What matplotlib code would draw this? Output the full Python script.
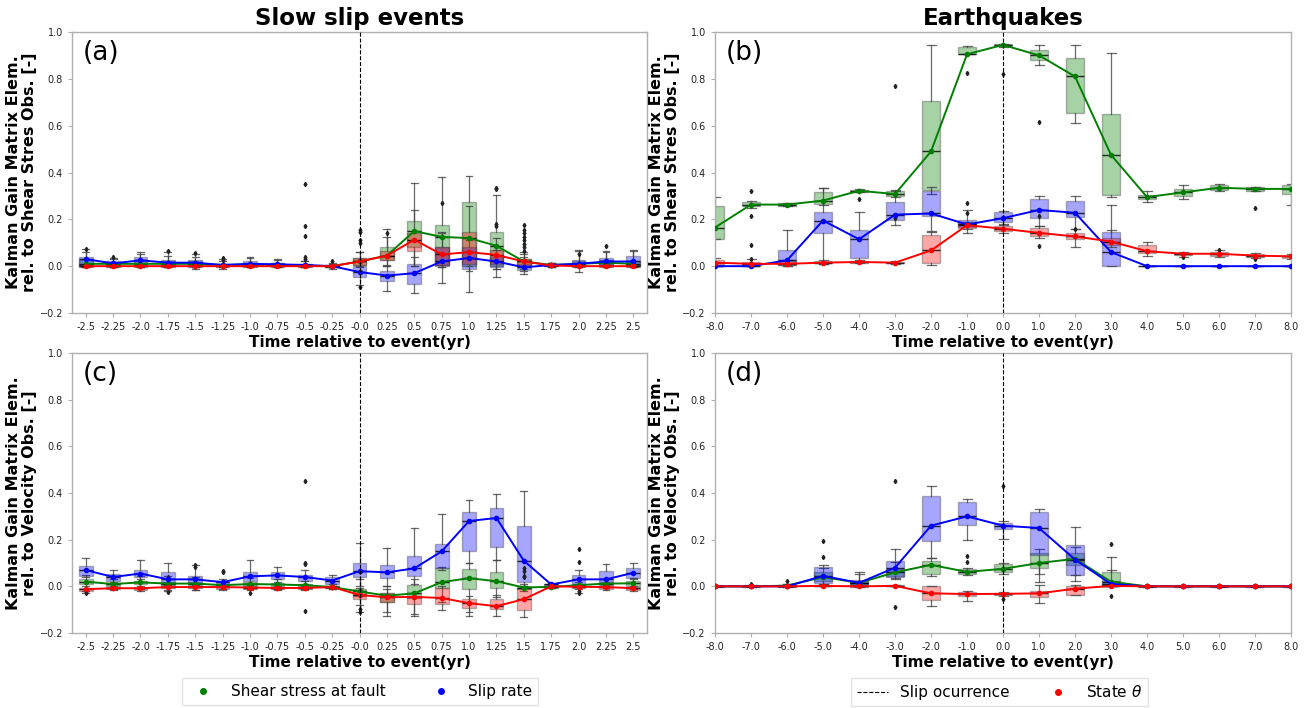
import matplotlib
matplotlib.use('Agg')
import matplotlib.pyplot as plt
from matplotlib.lines import Line2D

plt.rcParams['font.family'] = ['DejaVu Sans']

# ---------------- x positions / tick labels ----------------
sse_times = ['-2.5', '-2.25', '-2.0', '-1.75', '-1.5', '-1.25', '-1.0', '-0.75', '-0.5', '-0.25',
             '-0.0', '0.25', '0.5', '0.75', '1.0', '1.25', '1.5', '1.75', '2.0', '2.25', '2.5']
eq_times = [-8.0, -7.0, -6.0, -5.0, -4.0, -3.0, -2.0, -1.0, 0.0, 1.0, 2.0, 3.0, 4.0, 5.0, 6.0, 7.0, 8.0]

# ---------------- (a) SSE, shear stress obs ----------------
a_green_med = [0.01, 0.01, 0.01, 0.01, 0.01, 0.005, 0.008, 0.005, 0.003, 0.0, 0.02, 0.045, 0.15, 0.125, 0.12, 0.087, 0.02, 0.005, 0.01, 0.015, 0.01]
a_green_q1 = [0.0, 0.0, 0.0, 0.0, 0.0, 0.0, 0.0, 0.0, 0.0, -0.003, 0.005, 0.025, 0.08, 0.005, 0.0, 0.0, 0.0, 0.0, 0.0, 0.005, 0.0]
a_green_q3 = [0.025, 0.015, 0.025, 0.02, 0.02, 0.01, 0.015, 0.012, 0.01, 0.005, 0.035, 0.08, 0.195, 0.175, 0.275, 0.145, 0.03, 0.01, 0.02, 0.025, 0.02]
a_green_lo = [-0.005, -0.005, -0.005, -0.005, -0.005, -0.01, -0.005, -0.005, -0.005, -0.005, -0.005, 0.0, 0.0, -0.07, -0.11, -0.045, -0.02, -0.005, -0.025, -0.005, -0.005]
a_green_hi = [0.06, 0.03, 0.05, 0.045, 0.04, 0.03, 0.035, 0.025, 0.02, 0.015, 0.06, 0.16, 0.355, 0.38, 0.385, 0.305, 0.06, 0.015, 0.065, 0.06, 0.065]

a_blue_med = [0.03, 0.012, 0.025, 0.015, 0.015, 0.005, 0.01, 0.008, 0.005, 0.0, -0.025, -0.04, -0.03, 0.02, 0.035, 0.02, -0.005, 0.005, 0.01, 0.02, 0.02]
a_blue_q1 = [0.0, 0.0, 0.005, 0.0, 0.0, 0.0, 0.0, 0.0, 0.0, -0.005, -0.045, -0.065, -0.075, 0.0, -0.01, -0.005, -0.015, 0.0, 0.0, 0.005, 0.005]
a_blue_q3 = [0.04, 0.02, 0.04, 0.025, 0.025, 0.01, 0.02, 0.015, 0.01, 0.005, 0.0, -0.02, 0.01, 0.08, 0.08, 0.04, 0.01, 0.01, 0.025, 0.035, 0.045]
a_blue_lo = [-0.005, -0.005, 0.0, -0.005, -0.01, -0.005, -0.005, -0.005, -0.005, -0.01, -0.08, -0.105, -0.115, -0.005, -0.02, -0.01, -0.035, -0.005, -0.005, 0.0, 0.0]
a_blue_hi = [0.075, 0.035, 0.06, 0.06, 0.05, 0.02, 0.04, 0.03, 0.02, 0.01, 0.02, 0.0, 0.04, 0.14, 0.11, 0.07, 0.04, 0.015, 0.07, 0.065, 0.07]

a_red_med = [0.0, 0.0, 0.0, 0.0, 0.0, 0.0, 0.0, 0.0, 0.0, 0.0, 0.02, 0.045, 0.113, 0.05, 0.06, 0.048, 0.02, 0.003, 0.0, 0.0, 0.0]
a_red_q1 = [-0.003, -0.003, -0.003, -0.003, -0.003, -0.003, -0.003, -0.003, -0.003, -0.003, 0.005, 0.025, 0.065, 0.005, 0.01, 0.01, 0.0, 0.0, -0.003, -0.003, -0.003]
a_red_q3 = [0.003, 0.003, 0.003, 0.003, 0.003, 0.003, 0.003, 0.003, 0.003, 0.003, 0.035, 0.065, 0.14, 0.08, 0.145, 0.07, 0.03, 0.008, 0.005, 0.005, 0.005]
a_red_lo = [-0.005, -0.005, -0.005, -0.005, -0.005, -0.005, -0.005, -0.005, -0.005, -0.005, 0.0, 0.005, 0.0, -0.005, 0.0, -0.01, -0.01, -0.003, -0.005, -0.005, -0.005]
a_red_hi = [0.005, 0.005, 0.005, 0.005, 0.005, 0.005, 0.005, 0.005, 0.005, 0.005, 0.06, 0.125, 0.24, 0.145, 0.255, 0.12, 0.05, 0.012, 0.01, 0.01, 0.01]

a_fly_x = [0, 1, 3, 4, 5, 5, 8, 8, 8, 8, 8, 9, 10, 10, 10, 10, 10, 11, 13, 15, 15, 15, 15,
           16, 16, 16, 16, 16, 16, 16, 16, 18, 19]
a_fly_y = [0.075, 0.04, 0.065, 0.055, 0.035, 0.025, 0.35, 0.17, 0.13, 0.04, 0.03, 0.02, 0.155, 0.145, 0.11, 0.1, -0.09,
           0.14, 0.27, 0.335, 0.33, 0.18, 0.17, 0.175, 0.155, 0.14, 0.125, 0.11, 0.095, 0.08, 0.065, 0.05, 0.085]

# ---------------- (b) EQ, shear stress obs ----------------
b_green_med = [0.165, 0.263, 0.263, 0.28, 0.322, 0.308, 0.49, 0.905, 0.945, 0.9, 0.81, 0.475, 0.295, 0.315, 0.335, 0.33, 0.33]
b_green_q1 = [0.115, 0.255, 0.257, 0.265, 0.318, 0.298, 0.325, 0.905, 0.94, 0.88, 0.655, 0.305, 0.285, 0.30, 0.325, 0.323, 0.31]
b_green_q3 = [0.255, 0.275, 0.268, 0.318, 0.326, 0.32, 0.705, 0.935, 0.95, 0.925, 0.89, 0.65, 0.305, 0.33, 0.345, 0.338, 0.345]
b_green_lo = [0.115, 0.25, 0.255, 0.26, 0.316, 0.295, 0.31, 0.905, 0.938, 0.86, 0.61, 0.295, 0.275, 0.285, 0.32, 0.32, 0.26]
b_green_hi = [0.295, 0.28, 0.27, 0.335, 0.33, 0.325, 0.945, 0.94, 0.95, 0.945, 0.945, 0.91, 0.32, 0.345, 0.35, 0.34, 0.35]

b_blue_med = [0.0, 0.0, 0.025, 0.195, 0.115, 0.22, 0.225, 0.178, 0.205, 0.24, 0.228, 0.06, 0.0, 0.0, 0.0, 0.0, 0.0]
b_blue_q1 = [0.0, 0.0, 0.005, 0.14, 0.035, 0.198, 0.215, 0.168, 0.19, 0.205, 0.21, 0.0, 0.0, 0.0, 0.0, 0.0, 0.0]
b_blue_q3 = [0.002, 0.002, 0.07, 0.232, 0.155, 0.275, 0.32, 0.198, 0.232, 0.288, 0.28, 0.145, 0.001, 0.001, 0.001, 0.001, 0.001]
b_blue_lo = [0.0, 0.0, 0.0, 0.01, 0.02, 0.175, 0.15, 0.14, 0.18, 0.17, 0.16, 0.0, 0.0, 0.0, 0.0, 0.0, 0.0]
b_blue_hi = [0.005, 0.005, 0.155, 0.335, 0.23, 0.32, 0.34, 0.24, 0.235, 0.30, 0.30, 0.26, 0.001, 0.001, 0.001, 0.001, 0.001]

b_red_med = [0.015, 0.01, 0.01, 0.015, 0.018, 0.015, 0.067, 0.175, 0.16, 0.142, 0.127, 0.105, 0.064, 0.053, 0.053, 0.045, 0.042]
b_red_q1 = [0.005, 0.003, 0.005, 0.012, 0.015, 0.012, 0.015, 0.165, 0.152, 0.13, 0.115, 0.09, 0.055, 0.048, 0.045, 0.04, 0.035]
b_red_q3 = [0.025, 0.018, 0.02, 0.02, 0.022, 0.018, 0.135, 0.185, 0.17, 0.162, 0.14, 0.12, 0.09, 0.058, 0.06, 0.05, 0.045]
b_red_lo = [0.0, 0.0, 0.0, 0.01, 0.012, 0.01, 0.005, 0.16, 0.14, 0.12, 0.08, 0.08, 0.045, 0.04, 0.04, 0.035, 0.03]
b_red_hi = [0.035, 0.03, 0.025, 0.025, 0.025, 0.02, 0.145, 0.19, 0.175, 0.17, 0.16, 0.155, 0.105, 0.06, 0.07, 0.055, 0.05]

b_fly_x = [-7, -7, -7, -7, -4, -3, -3, -1, -1, -1, 0, 1, 1, 1, 2, 5, 6, 7, 7]
b_fly_y = [0.32, 0.215, 0.09, 0.03, 0.285, 0.77, 0.205, 0.825, 0.27, 0.225, 0.82, 0.615, 0.215, 0.085, 0.16, 0.04, 0.07, 0.25, 0.03]

# ---------------- (c) SSE, velocity obs ----------------
c_green_med = [0.02, 0.01, 0.017, 0.012, 0.012, 0.005, 0.01, 0.008, 0.005, -0.003, -0.022, -0.04, -0.03, 0.018, 0.035, 0.022, -0.005, -0.002, 0.005, 0.012, 0.013]
c_green_q1 = [0.01, 0.003, 0.008, 0.003, 0.003, -0.003, 0.0, 0.0, -0.003, -0.008, -0.04, -0.065, -0.05, -0.005, -0.01, -0.005, -0.01, -0.005, -0.003, 0.005, 0.003]
c_green_q3 = [0.03, 0.015, 0.025, 0.02, 0.02, 0.01, 0.018, 0.015, 0.012, 0.003, -0.01, -0.03, 0.005, 0.078, 0.075, 0.06, 0.0, 0.003, 0.012, 0.02, 0.025]
c_green_lo = [-0.02, -0.01, -0.01, -0.02, -0.015, -0.01, -0.01, -0.01, -0.01, -0.01, -0.08, -0.11, -0.12, -0.065, -0.11, -0.045, -0.02, -0.008, -0.03, -0.005, -0.01]
c_green_hi = [0.05, 0.03, 0.045, 0.045, 0.04, 0.02, 0.035, 0.03, 0.025, 0.01, 0.03, 0.0, 0.03, 0.085, 0.1, 0.115, 0.01, 0.008, 0.02, 0.03, 0.035]

c_blue_med = [0.07, 0.04, 0.055, 0.03, 0.03, 0.018, 0.043, 0.047, 0.04, 0.025, 0.065, 0.06, 0.077, 0.15, 0.28, 0.293, 0.11, 0.008, 0.03, 0.03, 0.058]
c_blue_q1 = [0.045, 0.025, 0.04, 0.01, 0.015, 0.005, 0.025, 0.03, 0.025, 0.01, 0.04, 0.035, 0.045, 0.08, 0.15, 0.17, 0.02, 0.0, 0.01, 0.02, 0.035]
c_blue_q3 = [0.088, 0.052, 0.07, 0.062, 0.045, 0.025, 0.062, 0.062, 0.05, 0.04, 0.1, 0.09, 0.13, 0.18, 0.32, 0.335, 0.257, 0.012, 0.05, 0.065, 0.08]
c_blue_lo = [0.04, 0.02, 0.03, 0.0, 0.0, 0.0, 0.01, 0.02, 0.01, 0.0, 0.0, 0.0, 0.01, 0.07, 0.1, 0.115, 0.0, 0.0, 0.0, 0.01, 0.03]
c_blue_hi = [0.12, 0.07, 0.113, 0.098, 0.09, 0.03, 0.112, 0.085, 0.07, 0.05, 0.185, 0.165, 0.25, 0.31, 0.37, 0.395, 0.41, 0.015, 0.068, 0.095, 0.098]

c_red_med = [-0.012, -0.008, -0.008, -0.003, -0.003, -0.003, -0.005, -0.007, -0.007, -0.003, -0.037, -0.047, -0.045, -0.05, -0.072, -0.085, -0.055, 0.0, -0.002, -0.003, -0.008]
c_red_q1 = [-0.02, -0.012, -0.015, -0.008, -0.008, -0.01, -0.01, -0.012, -0.012, -0.008, -0.053, -0.068, -0.075, -0.075, -0.092, -0.095, -0.1, -0.003, -0.008, -0.01, -0.015]
c_red_q3 = [-0.005, -0.003, -0.003, 0.0, 0.0, 0.0, 0.0, -0.002, -0.002, 0.0, -0.02, -0.03, -0.04, -0.005, -0.055, -0.055, -0.005, 0.003, 0.003, 0.0, -0.003]
c_red_lo = [-0.03, -0.015, -0.02, -0.015, -0.015, -0.015, -0.015, -0.015, -0.015, -0.01, -0.11, -0.125, -0.125, -0.1, -0.125, -0.125, -0.13, -0.005, -0.01, -0.015, -0.02]
c_red_hi = [0.0, 0.0, 0.0, 0.005, 0.005, 0.003, 0.005, 0.003, 0.003, 0.003, -0.005, -0.01, -0.03, 0.0, -0.04, -0.035, 0.0, 0.005, 0.005, 0.005, 0.0]

c_fly_x = [0, 0, 3, 3, 4, 4, 5, 5, 6, 8, 8, 8, 8, 10, 10, 16, 16, 16, 16, 18, 18, 18, 18]
c_fly_y = [-0.025, -0.03, -0.025, 0.04, 0.09, 0.085, 0.065, 0.06, -0.03, 0.45, 0.1, 0.095, -0.105, -0.095, -0.11,
           0.08, 0.065, 0.045, 0.04, 0.16, 0.105, -0.02, -0.03]

# ---------------- (d) EQ, velocity obs ----------------
d_green_med = [0.0, 0.0, 0.003, 0.04, 0.015, 0.06, 0.092, 0.062, 0.075, 0.1, 0.118, 0.02, 0.0, 0.0, 0.0, 0.0, 0.0]
d_green_q1 = [0.0, 0.0, 0.0, 0.025, 0.005, 0.045, 0.055, 0.055, 0.06, 0.08, 0.09, 0.005, 0.0, 0.0, 0.0, 0.0, 0.0]
d_green_q3 = [0.002, 0.002, 0.006, 0.06, 0.025, 0.075, 0.11, 0.075, 0.095, 0.145, 0.145, 0.06, 0.001, 0.001, 0.001, 0.001, 0.001]
d_green_lo = [0.0, 0.0, 0.0, 0.01, 0.0, 0.035, 0.045, 0.05, 0.055, 0.055, 0.05, 0.0, 0.0, 0.0, 0.0, 0.0, 0.0]
d_green_hi = [0.004, 0.004, 0.01, 0.08, 0.055, 0.105, 0.12, 0.08, 0.1, 0.16, 0.17, 0.07, 0.001, 0.001, 0.001, 0.001, 0.001]

d_blue_med = [0.0, 0.0, 0.0, 0.045, 0.015, 0.08, 0.26, 0.3, 0.26, 0.25, 0.115, 0.01, 0.0, 0.0, 0.0, 0.0, 0.0]
d_blue_q1 = [0.0, 0.0, 0.0, 0.015, 0.005, 0.04, 0.193, 0.262, 0.245, 0.135, 0.05, 0.0, 0.0, 0.0, 0.0, 0.0, 0.0]
d_blue_q3 = [0.001, 0.001, 0.005, 0.083, 0.028, 0.11, 0.388, 0.36, 0.27, 0.317, 0.177, 0.025, 0.001, 0.001, 0.001, 0.001, 0.001]
d_blue_lo = [0.0, 0.0, 0.0, 0.01, 0.0, 0.03, 0.12, 0.2, 0.205, 0.02, 0.025, 0.0, 0.0, 0.0, 0.0, 0.0, 0.0]
d_blue_hi = [0.002, 0.002, 0.01, 0.09, 0.062, 0.16, 0.43, 0.375, 0.278, 0.333, 0.255, 0.125, 0.001, 0.001, 0.001, 0.001, 0.001]

d_red_med = [0.0, 0.0, 0.0, 0.002, 0.0, 0.002, -0.03, -0.033, -0.032, -0.03, -0.01, 0.002, 0.0, 0.0, 0.0, 0.0, 0.0]
d_red_q1 = [-0.001, -0.001, -0.001, 0.0, -0.001, 0.0, -0.058, -0.042, -0.037, -0.045, -0.035, 0.0, -0.001, -0.001, -0.001, -0.001, -0.001]
d_red_q3 = [0.001, 0.001, 0.001, 0.004, 0.001, 0.004, 0.0, -0.025, -0.027, -0.02, 0.0, 0.004, 0.001, 0.001, 0.001, 0.001, 0.001]
d_red_lo = [-0.002, -0.002, -0.002, 0.0, -0.002, 0.0, -0.083, -0.062, -0.04, -0.07, -0.037, 0.0, -0.002, -0.002, -0.002, -0.002, -0.002]
d_red_hi = [0.002, 0.002, 0.002, 0.005, 0.002, 0.005, 0.002, -0.02, -0.025, 0.005, 0.005, 0.006, 0.002, 0.002, 0.002, 0.002, 0.002]

d_fly_x = [-7, -6, -5, -5, -3, -3, -1, -1, 0, 0, 3, 3]
d_fly_y = [0.01, 0.025, 0.195, 0.125, 0.45, -0.09, 0.13, 0.105, 0.43, -0.055, 0.18, -0.04]

# ---------------- styles ----------------
GREEN = 'green'
BLUE = 'blue'
RED = 'red'
SPINE = '#b0b0b0'


def draw_series(ax, pos, med, q1, q3, lo, hi, color):
    stats = []
    for m, a, b, l, h in zip(med, q1, q3, lo, hi):
        stats.append({'med': m, 'q1': a, 'q3': b, 'whislo': l, 'whishi': h, 'fliers': []})
    ax.bxp(stats, positions=pos, widths=0.5, patch_artist=True, showfliers=False,
           manage_ticks=False,
           boxprops=dict(facecolor=color, alpha=0.35, edgecolor='#333333', linewidth=1.0),
           whiskerprops=dict(color='#444444', linewidth=0.9, alpha=0.8),
           capprops=dict(color='#444444', linewidth=0.9, alpha=0.8),
           medianprops=dict(color='black', linewidth=1.0, alpha=0.8))
    ax.plot(pos, med, color=color, marker='o', markersize=3, linewidth=1.4, zorder=5)


def style_axes(ax, label, ylabel):
    ax.set_ylim(-0.2, 1.0)
    ax.set_yticks([-0.2, 0.0, 0.2, 0.4, 0.6, 0.8, 1.0])
    for s in ax.spines.values():
        s.set_color(SPINE)
        s.set_linewidth(1.0)
    ax.tick_params(axis='both', labelsize=7, color=SPINE, labelcolor='#222222', length=3)
    ax.set_xlabel('Time relative to event(yr)', fontsize=11, fontweight='bold', labelpad=2)
    ax.set_ylabel(ylabel, fontsize=11.5, fontweight='bold', linespacing=1.05, labelpad=2)
    ax.text(0.018, 0.97, label, transform=ax.transAxes, fontsize=19, va='top', ha='left')


fig = plt.figure(figsize=(13.05, 7.08), dpi=100)
ax_a = fig.add_axes([0.0552, 0.5579, 0.4406, 0.3969])
ax_b = fig.add_axes([0.5479, 0.5579, 0.4414, 0.3969])
ax_c = fig.add_axes([0.0552, 0.1059, 0.4406, 0.3955])
ax_d = fig.add_axes([0.5479, 0.1059, 0.4414, 0.3955])

ylab_shear = 'Kalman Gain Matrix Elem.\nrel. to Shear Stres Obs. [-]'
ylab_vel = 'Kalman Gain Matrix Elem.\nrel. to Velocity Obs. [-]'

sse_pos = list(range(len(sse_times)))

panels = [
    (ax_a, sse_pos, [(a_green_med, a_green_q1, a_green_q3, a_green_lo, a_green_hi, GREEN),
                     (a_blue_med, a_blue_q1, a_blue_q3, a_blue_lo, a_blue_hi, BLUE),
                     (a_red_med, a_red_q1, a_red_q3, a_red_lo, a_red_hi, RED)], a_fly_x, a_fly_y),
    (ax_b, eq_times, [(b_green_med, b_green_q1, b_green_q3, b_green_lo, b_green_hi, GREEN),
                      (b_blue_med, b_blue_q1, b_blue_q3, b_blue_lo, b_blue_hi, BLUE),
                      (b_red_med, b_red_q1, b_red_q3, b_red_lo, b_red_hi, RED)], b_fly_x, b_fly_y),
    (ax_c, sse_pos, [(c_green_med, c_green_q1, c_green_q3, c_green_lo, c_green_hi, GREEN),
                     (c_blue_med, c_blue_q1, c_blue_q3, c_blue_lo, c_blue_hi, BLUE),
                     (c_red_med, c_red_q1, c_red_q3, c_red_lo, c_red_hi, RED)], c_fly_x, c_fly_y),
    (ax_d, eq_times, [(d_green_med, d_green_q1, d_green_q3, d_green_lo, d_green_hi, GREEN),
                      (d_blue_med, d_blue_q1, d_blue_q3, d_blue_lo, d_blue_hi, BLUE),
                      (d_red_med, d_red_q1, d_red_q3, d_red_lo, d_red_hi, RED)], d_fly_x, d_fly_y),
]

for ax, pos, series, fx, fy in panels:
    for med, q1, q3, lo, hi, col in series:
        draw_series(ax, pos, med, q1, q3, lo, hi, col)
    ax.plot(fx, fy, linestyle='none', marker='d', markersize=2.2, color='#222222', zorder=4)

# SSE panels: categorical axis
for ax in (ax_a, ax_c):
    ax.set_xlim(-0.5, len(sse_times) - 0.5)
    ax.set_xticks(sse_pos)
    ax.set_xticklabels(sse_times)
    ax.axvline(sse_times.index('-0.0'), color='black', linestyle='--', linewidth=0.8, zorder=6)

# EQ panels: time axis
for ax in (ax_b, ax_d):
    ax.set_xlim(eq_times[0], eq_times[-1])
    ax.set_xticks(eq_times)
    ax.set_xticklabels([f'{t:.1f}' for t in eq_times])
    ax.axvline(0.0, color='black', linestyle='--', linewidth=0.8, zorder=6)

style_axes(ax_a, '(a)', ylab_shear)
style_axes(ax_b, '(b)', ylab_shear)
style_axes(ax_c, '(c)', ylab_vel)
style_axes(ax_d, '(d)', ylab_vel)

ax_a.set_title('Slow slip events', fontsize=16.5, fontweight='bold', pad=5)
ax_b.set_title('Earthquakes', fontsize=16.5, fontweight='bold', pad=5)

# legends
h_shear = Line2D([], [], linestyle='none', marker='o', color=GREEN, markersize=4)
h_slip = Line2D([], [], linestyle='none', marker='o', color=BLUE, markersize=4)
h_occ = Line2D([], [], linestyle='--', color='black', linewidth=0.8)
h_state = Line2D([], [], linestyle='none', marker='o', color=RED, markersize=4)

fig.legend([h_shear, h_slip], ['Shear stress at fault', 'Slip rate'], ncol=2,
           loc='upper center', bbox_to_anchor=(0.276, 0.0424), borderaxespad=0, fontsize=11,
           frameon=True, fancybox=False, edgecolor='#dddddd', columnspacing=2.6)
fig.legend([h_occ, h_state], ['Slip ocurrence', r'State $\theta$'], ncol=2,
           loc='upper center', bbox_to_anchor=(0.766, 0.0424), borderaxespad=0, fontsize=11,
           frameon=True, fancybox=False, edgecolor='#dddddd', columnspacing=2.2)

fig.savefig('out.png', dpi=100)
